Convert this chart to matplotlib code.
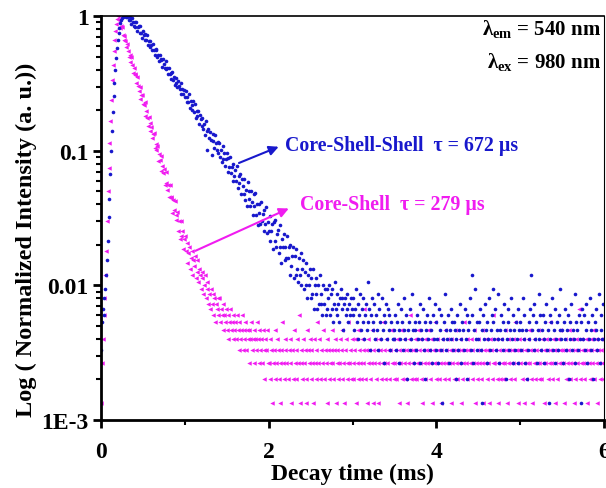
import numpy as np
import matplotlib
matplotlib.use("Agg")
import matplotlib.pyplot as plt
from matplotlib.ticker import NullFormatter

plt.rcParams["font.family"] = ["Liberation Serif", "DejaVu Serif"]
plt.rcParams["font.weight"] = "bold"
plt.rcParams["mathtext.fontset"] = "custom"
plt.rcParams["mathtext.rm"] = "Liberation Serif:bold"
plt.rcParams["mathtext.bf"] = "Liberation Serif:bold"
plt.rcParams["mathtext.it"] = "Liberation Serif:italic:bold"

# channel width of the decay record (ms)
dt = 0.01

# Core-Shell (magenta) photon counts per channel
pink_rise = [2, 4, 6, 9, 12, 18, 27, 45, 75, 112, 170, 250, 360, 500, 650, 820, 1000, 1160, 1300, 1420, 1500]
pink_decay = [
    1399, 1414, 1230, 1258, 1244, 1084, 990, 1065, 975, 882,
    936, 825, 745, 778, 690, 740, 652, 571, 621, 546,
    557, 475, 530, 454, 419, 445, 364, 389, 391, 331,
    329, 344, 274, 298, 262, 229, 265, 240, 209, 224,
    187, 200, 202, 157, 168, 151, 164, 126, 143, 129,
    138, 106, 115, 102, 109, 84, 105, 86, 77, 84,
    68, 83, 67, 68, 52, 65, 54, 64, 46, 50,
    53, 38, 45, 33, 45, 35, 38, 28, 33, 35,
    27, 31, 22, 26, 29, 20, 24, 27, 18, 23,
    21, 25, 17, 19, 23, 16, 20, 18, 14, 19,
    17, 13, 15, 18, 12, 14, 16, 11, 13, 10,
    14, 11, 9, 13, 12, 8, 11, 10, 12, 9,
    12, 8, 10, 9, 7, 11, 9, 8, 10, 7,
    9, 6, 8, 10, 7, 8, 6, 9, 7, 8,
    6, 9, 7, 5, 8, 6, 7, 9, 5, 7,
    6, 8, 5, 7, 6, 4, 7, 6, 8, 5,
    6, 7, 4, 6, 5, 8, 6, 4, 7, 5,
    6, 4, 7, 5, 3, 6, 5, 7, 4,
]
pink_tail = [
    4, 6, 3, 5, 2, 4, 5, 7, 3, 4, 6, 5, 3, 2, 4, 5, 8, 4, 3, 6, 5, 4, 1, 3, 5,
    6, 4, 2, 5, 3, 7, 4, 5, 3, 6, 4, 9, 2, 4, 5, 3, 6, 4, 5, 2, 3, 7, 5, 4, 6,
    3, 5, 4, 2, 6, 4, 3, 5, 8, 4, 6, 3, 5, 1, 4, 7, 3, 5, 4, 6, 2, 5, 3, 4, 5,
    7, 4, 3, 5, 6, 2, 4, 5, 3, 4, 6, 5, 7, 3, 4, 2, 5, 6, 4, 3, 8, 4, 5, 3, 6,
    4, 3, 5, 6, 2, 4, 7, 3, 5, 4, 3, 6, 5, 4, 10, 3, 5, 2, 4, 6, 5, 3, 4, 7, 2,
    5, 4, 6, 3, 5, 4, 2, 6, 5, 3, 4, 8, 5, 4, 3, 6, 4, 5, 1, 3, 5, 7, 4, 6, 3,
    4, 5, 3, 6, 4, 2, 5, 4, 7, 3, 5, 6, 4, 3, 5, 2, 4, 6, 5, 9, 3, 4, 5, 3, 6,
    5, 3, 4, 7, 5, 4, 6, 3, 2, 5, 4, 6, 3, 5, 4, 7, 5, 3, 4, 6, 2, 5, 4, 8, 3,
    4, 6, 5, 3, 4, 2, 5, 6, 4, 3, 7, 5, 4, 6, 3, 4, 5, 2, 6, 4, 5, 3, 7, 4, 5,
    3, 5, 4, 6, 2, 5, 3, 4, 8, 5, 4, 3, 6, 5, 1, 4, 6, 3, 5, 4, 7, 2, 4, 5, 3,
    6, 4, 5, 3, 4, 7, 2, 5, 4, 6, 3, 5, 4, 2, 6, 5, 3, 4, 9, 4, 5, 6, 3, 4, 2,
    5, 3, 6, 4, 5, 3, 4, 7, 5, 2, 4, 6, 5, 3, 4, 5, 6, 4, 3, 8, 5, 4, 2, 5, 6,
    4, 5, 3, 6, 4, 2, 5, 3, 4, 6, 7, 4, 5, 3, 2, 5, 4, 6, 3, 5, 4, 7, 3, 4, 5,
    3, 6, 4, 5, 2, 4, 6, 5, 3, 4, 5, 8, 4, 3, 6, 5, 4, 2, 5, 3, 6, 4, 5, 7, 4,
    5, 4, 2, 6, 5, 3, 4, 5, 7, 4, 3, 6, 5, 4, 2, 5, 3, 6, 4, 5, 10, 3, 4, 6, 5,
    4, 3, 5, 6, 4, 2, 5, 4, 3, 6, 5, 4, 7, 3, 5, 4, 6, 2, 5, 4, 3, 6, 5, 4, 3,
]

# Core-Shell-Shell (blue) photon counts per channel
blue_rise = [5, 8, 10, 9, 12, 14, 18, 23, 32, 48, 66, 100, 150, 210, 290, 380,
             480, 600, 730, 870, 1000, 1120, 1230, 1330, 1400, 1450, 1480, 1495,
             1500, 1492, 1485, 1478]
blue_decay = [
    1496, 1392, 1490, 1396, 1307, 1450, 1361, 1261, 1358,
    1247, 1354, 1158, 1250, 1266, 1128, 1261, 1126, 1040, 1156,
    1089, 1003, 1108, 992, 1092, 912, 980, 988, 885, 912,
    840, 927, 840, 765, 847, 861, 750, 773, 697, 771,
    705, 725, 628, 723, 662, 616, 692, 603, 621, 561,
    620, 556, 567, 512, 581, 506, 533, 460, 521, 480,
    447, 498, 456, 429, 481, 394, 428, 399, 426, 374,
    417, 344, 377, 348, 398, 310, 354, 326, 303, 349,
    292, 333, 264, 295, 272, 295, 236, 275, 256, 230,
    264, 219, 239, 197, 248, 210, 152, 219, 185, 205,
    181, 139, 201, 177, 156, 195, 172, 153, 173, 144,
    172, 134, 152, 123, 164, 131, 144, 116, 130, 144,
    105, 132, 113, 135, 102, 114, 90, 120, 98, 108,
    90, 115, 80, 97, 86, 101, 71, 93, 82, 71,
    92, 65, 77, 58, 88, 66, 75, 58, 75, 62,
    50, 71, 58, 73, 50, 60, 42, 60, 52, 43,
    62, 45, 51, 38, 54, 43, 57, 37, 44, 38,
    32, 49, 38, 43, 28, 44, 32, 46, 29, 36,
    39, 26, 42, 29, 22, 33, 29, 36, 23, 29,
    24, 35, 24, 29, 18, 30, 21, 25, 29, 17,
    25, 18, 28, 20, 16, 24, 18, 26, 15, 20,
    23, 14, 19, 15, 22, 12, 18, 15, 20, 12,
    17, 13, 20, 10, 15, 13, 17, 10, 15, 11,
    18, 11, 13, 9, 15, 11, 14, 9, 14, 10,
    12, 15, 9, 13, 10, 14, 8, 11, 16, 10,
    9, 13, 11, 8, 12, 14, 10, 12, 7, 11,
    12, 9, 10, 13, 8, 11, 9, 12, 10,
]
blue_tail = [
    9, 12, 7, 10, 14, 8, 11, 6, 9, 13, 7, 10, 8, 12, 6, 9, 11, 7, 16, 8, 10, 5, 9, 12, 7,
    8, 11, 6, 9, 7, 13, 5, 10, 8, 6, 12, 7, 9, 4, 8, 11, 6, 10, 7, 9, 5, 8, 14, 6, 7,
    6, 9, 5, 8, 11, 7, 4, 6, 10, 8, 5, 7, 12, 6, 9, 3, 7, 8, 5, 10, 6, 13, 7, 4, 8,
    7, 5, 9, 6, 8, 11, 4, 7, 6, 10, 5, 8, 3, 7, 9, 6, 12, 5, 8, 7, 4, 9, 6, 11, 5,
    8, 6, 4, 10, 7, 5, 9, 2, 6, 8, 13, 7, 5, 6, 9, 4, 7, 10, 6, 8, 5, 8, 7, 6, 3,
    9, 5, 7, 11, 6, 4, 8, 7, 5, 10, 6, 9, 3, 7, 8, 12, 5, 18, 9, 4, 7, 14, 6, 8, 5,
    6, 8, 10, 5, 7, 2, 9, 6, 11, 7, 4, 8, 6, 12, 5, 7, 9, 14, 8, 6, 10, 5, 7, 13, 6,
    4, 7, 9, 6, 8, 5, 11, 7, 3, 6, 10, 8, 5, 7, 12, 6, 4, 9, 7, 5, 8, 6, 10, 4, 7,
    8, 5, 7, 12, 6, 9, 4, 7, 3, 5, 8, 6, 10, 18, 7, 9, 5, 11, 6, 8, 4, 7, 13, 6, 9,
    5, 7, 9, 6, 4, 8, 11, 5, 7, 2, 9, 6, 8, 12, 5, 7, 10, 4, 6, 8, 5, 9, 7, 14, 6,
    7, 4, 8, 6, 10, 5, 7, 9, 3, 6, 8, 11, 5, 7, 6, 13, 4, 8, 7, 5, 9, 6, 2, 8, 10,
    6, 9, 5, 7, 11, 4, 8, 6, 12, 7, 5, 9, 3, 6, 8, 10, 7, 5, 6, 13, 4, 7, 9, 6, 11,
]

PINK = "#f01cf0"
BLUE = "#1818cc"

pink_counts = np.array(pink_rise + pink_decay + pink_tail, dtype=float)
blue_counts = np.array(blue_rise + blue_decay + blue_tail, dtype=float)
t_pink = np.arange(len(pink_counts)) * dt
t_blue = np.arange(len(blue_counts)) * dt
y_pink = pink_counts / pink_counts.max()
y_blue = blue_counts / blue_counts.max()

fig = plt.figure(figsize=(6.06, 4.89), dpi=100)
ax = fig.add_axes([0.1667, 0.139, 0.830, 0.826])

m = y_pink > 0
ax.plot(t_pink[m], y_pink[m], "<", ms=3.2, color=PINK, mec="none")
m = y_blue > 0
ax.plot(t_blue[m], y_blue[m], "o", ms=2.6, color=BLUE, mec="none")

ax.set_yscale("log")
ax.set_xlim(0, 6)
ax.set_ylim(1e-3, 1)
ax.set_yticks([1e-3, 1e-2, 0.1, 1])
ax.set_yticklabels(["1E-3", "0.01", "0.1", "1"])
ax.yaxis.set_minor_formatter(NullFormatter())
ax.set_xticks([0, 2, 4, 6])
ax.set_xticks([1, 3, 5], minor=True)

ax.tick_params(which="major", direction="out", length=6, width=2, labelsize=17)
ax.tick_params(which="minor", direction="out", length=3.5, width=1.5)
ax.tick_params(axis="x", which="major", pad=9)
ax.tick_params(axis="y", which="major", pad=3)
for s in ["left", "bottom"]:
    ax.spines[s].set_linewidth(2)
ax.spines["top"].set_linewidth(1.2)
ax.spines["right"].set_linewidth(0.8)

ax.set_xlabel("Decay time (ms)", fontsize=17, fontweight="bold", labelpad=1)
ax.set_ylabel("Log ( Normalized Intensity (a. u.))", fontsize=17.5, fontweight="bold")
ax.yaxis.set_label_coords(-0.127, 0.448)

# labels with arrows
ax.annotate("", xy=(2.15, 0.109), xytext=(1.615, 0.0797),
            arrowprops=dict(arrowstyle="-|>", color=BLUE, lw=1.5, mutation_scale=14))
ax.text(2.19, 0.11, "Core-Shell-Shell  τ = 672 µs", color=BLUE, fontsize=14.3,
        fontweight="bold", ha="left", va="center")
ax.annotate("", xy=(2.27, 0.038), xytext=(1.095, 0.0177),
            arrowprops=dict(arrowstyle="-|>", color=PINK, lw=1.5, mutation_scale=14))
ax.text(2.37, 0.0402, "Core-Shell  τ = 279 µs", color=PINK, fontsize=14.3,
        fontweight="bold", ha="left", va="center")

ax.text(0.994, 0.955, r"λ$_{\mathbf{em}}$ = 540 nm", transform=ax.transAxes,
        fontsize=15, fontweight="bold", ha="right", va="baseline")
ax.text(0.994, 0.874, r"λ$_{\mathbf{ex}}$ = 980 nm", transform=ax.transAxes,
        fontsize=15, fontweight="bold", ha="right", va="baseline")

fig.savefig("out.png", dpi=100)
